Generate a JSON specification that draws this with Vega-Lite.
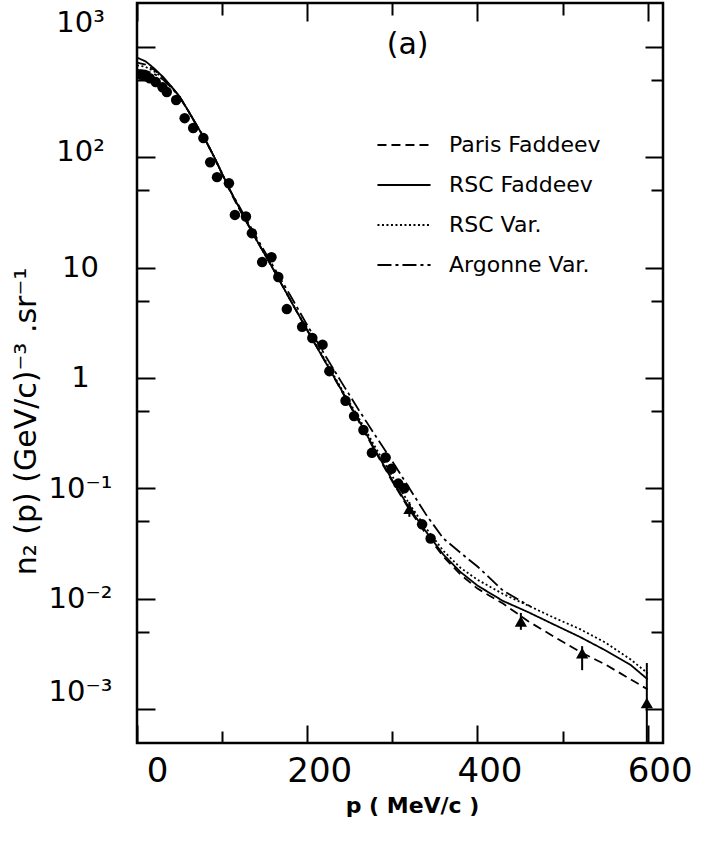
{
  "$schema": "https://vega.github.io/schema/vega-lite/v6.json",
  "width": 526,
  "height": 740,
  "autosize": "none",
  "padding": {"left": 137, "top": 3, "right": 38, "bottom": 104},
  "background": "white",
  "config": {
    "view": {"stroke": "black", "strokeWidth": 2.5},
    "font": "DejaVu Sans",
    "axis": {"grid": false, "domain": false, "tickColor": "black", "tickWidth": 2, "labelColor": "black", "titleColor": "black"}
  },
  "datasets": {
    "curves": [
      {"m": "Paris Faddeev", "p": 0, "n": 720}, {"m": "Paris Faddeev", "p": 10, "n": 690}, {"m": "Paris Faddeev", "p": 20, "n": 620}, {"m": "Paris Faddeev", "p": 30, "n": 535}, {"m": "Paris Faddeev", "p": 40, "n": 440}, {"m": "Paris Faddeev", "p": 50, "n": 355}, {"m": "Paris Faddeev", "p": 60, "n": 265}, {"m": "Paris Faddeev", "p": 70, "n": 195}, {"m": "Paris Faddeev", "p": 80, "n": 145}, {"m": "Paris Faddeev", "p": 90, "n": 103}, {"m": "Paris Faddeev", "p": 100, "n": 70}, {"m": "Paris Faddeev", "p": 110, "n": 48}, {"m": "Paris Faddeev", "p": 120, "n": 34}, {"m": "Paris Faddeev", "p": 140, "n": 18}, {"m": "Paris Faddeev", "p": 160, "n": 9.7}, {"m": "Paris Faddeev", "p": 180, "n": 5.1}, {"m": "Paris Faddeev", "p": 200, "n": 2.7}, {"m": "Paris Faddeev", "p": 220, "n": 1.45}, {"m": "Paris Faddeev", "p": 240, "n": 0.77}, {"m": "Paris Faddeev", "p": 260, "n": 0.41}, {"m": "Paris Faddeev", "p": 280, "n": 0.215}, {"m": "Paris Faddeev", "p": 300, "n": 0.115}, {"m": "Paris Faddeev", "p": 320, "n": 0.064}, {"m": "Paris Faddeev", "p": 340, "n": 0.038}, {"m": "Paris Faddeev", "p": 360, "n": 0.024}, {"m": "Paris Faddeev", "p": 380, "n": 0.0165}, {"m": "Paris Faddeev", "p": 400, "n": 0.0123}, {"m": "Paris Faddeev", "p": 430, "n": 0.009}, {"m": "Paris Faddeev", "p": 460, "n": 0.0062}, {"m": "Paris Faddeev", "p": 490, "n": 0.0045}, {"m": "Paris Faddeev", "p": 520, "n": 0.0033}, {"m": "Paris Faddeev", "p": 550, "n": 0.00253}, {"m": "Paris Faddeev", "p": 580, "n": 0.00185}, {"m": "Paris Faddeev", "p": 600, "n": 0.0015},
      {"m": "RSC Faddeev", "p": 0, "n": 800}, {"m": "RSC Faddeev", "p": 10, "n": 740}, {"m": "RSC Faddeev", "p": 20, "n": 640}, {"m": "RSC Faddeev", "p": 30, "n": 540}, {"m": "RSC Faddeev", "p": 40, "n": 440}, {"m": "RSC Faddeev", "p": 50, "n": 355}, {"m": "RSC Faddeev", "p": 60, "n": 265}, {"m": "RSC Faddeev", "p": 70, "n": 195}, {"m": "RSC Faddeev", "p": 80, "n": 145}, {"m": "RSC Faddeev", "p": 90, "n": 103}, {"m": "RSC Faddeev", "p": 100, "n": 71}, {"m": "RSC Faddeev", "p": 110, "n": 49}, {"m": "RSC Faddeev", "p": 120, "n": 35}, {"m": "RSC Faddeev", "p": 140, "n": 18}, {"m": "RSC Faddeev", "p": 160, "n": 9.7}, {"m": "RSC Faddeev", "p": 180, "n": 5.1}, {"m": "RSC Faddeev", "p": 200, "n": 2.7}, {"m": "RSC Faddeev", "p": 220, "n": 1.45}, {"m": "RSC Faddeev", "p": 240, "n": 0.78}, {"m": "RSC Faddeev", "p": 260, "n": 0.42}, {"m": "RSC Faddeev", "p": 280, "n": 0.22}, {"m": "RSC Faddeev", "p": 300, "n": 0.118}, {"m": "RSC Faddeev", "p": 320, "n": 0.066}, {"m": "RSC Faddeev", "p": 340, "n": 0.04}, {"m": "RSC Faddeev", "p": 360, "n": 0.025}, {"m": "RSC Faddeev", "p": 380, "n": 0.0174}, {"m": "RSC Faddeev", "p": 400, "n": 0.0131}, {"m": "RSC Faddeev", "p": 430, "n": 0.0095}, {"m": "RSC Faddeev", "p": 460, "n": 0.0075}, {"m": "RSC Faddeev", "p": 490, "n": 0.0058}, {"m": "RSC Faddeev", "p": 520, "n": 0.0045}, {"m": "RSC Faddeev", "p": 550, "n": 0.0034}, {"m": "RSC Faddeev", "p": 580, "n": 0.0025}, {"m": "RSC Faddeev", "p": 600, "n": 0.00185},
      {"m": "RSC Var.", "p": 0, "n": 680}, {"m": "RSC Var.", "p": 10, "n": 660}, {"m": "RSC Var.", "p": 20, "n": 600}, {"m": "RSC Var.", "p": 30, "n": 530}, {"m": "RSC Var.", "p": 40, "n": 440}, {"m": "RSC Var.", "p": 50, "n": 355}, {"m": "RSC Var.", "p": 60, "n": 265}, {"m": "RSC Var.", "p": 70, "n": 195}, {"m": "RSC Var.", "p": 80, "n": 145}, {"m": "RSC Var.", "p": 90, "n": 103}, {"m": "RSC Var.", "p": 100, "n": 71}, {"m": "RSC Var.", "p": 110, "n": 49}, {"m": "RSC Var.", "p": 120, "n": 35}, {"m": "RSC Var.", "p": 140, "n": 18}, {"m": "RSC Var.", "p": 160, "n": 9.7}, {"m": "RSC Var.", "p": 180, "n": 5.1}, {"m": "RSC Var.", "p": 200, "n": 2.75}, {"m": "RSC Var.", "p": 220, "n": 1.5}, {"m": "RSC Var.", "p": 240, "n": 0.8}, {"m": "RSC Var.", "p": 260, "n": 0.44}, {"m": "RSC Var.", "p": 280, "n": 0.235}, {"m": "RSC Var.", "p": 300, "n": 0.128}, {"m": "RSC Var.", "p": 320, "n": 0.072}, {"m": "RSC Var.", "p": 340, "n": 0.043}, {"m": "RSC Var.", "p": 360, "n": 0.027}, {"m": "RSC Var.", "p": 380, "n": 0.019}, {"m": "RSC Var.", "p": 400, "n": 0.0148}, {"m": "RSC Var.", "p": 430, "n": 0.011}, {"m": "RSC Var.", "p": 460, "n": 0.0086}, {"m": "RSC Var.", "p": 490, "n": 0.0067}, {"m": "RSC Var.", "p": 520, "n": 0.0053}, {"m": "RSC Var.", "p": 550, "n": 0.004}, {"m": "RSC Var.", "p": 580, "n": 0.0028}, {"m": "RSC Var.", "p": 600, "n": 0.0021},
      {"m": "Argonne Var.", "p": 0, "n": 620}, {"m": "Argonne Var.", "p": 10, "n": 610}, {"m": "Argonne Var.", "p": 20, "n": 570}, {"m": "Argonne Var.", "p": 30, "n": 510}, {"m": "Argonne Var.", "p": 40, "n": 430}, {"m": "Argonne Var.", "p": 50, "n": 350}, {"m": "Argonne Var.", "p": 60, "n": 265}, {"m": "Argonne Var.", "p": 70, "n": 195}, {"m": "Argonne Var.", "p": 80, "n": 145}, {"m": "Argonne Var.", "p": 90, "n": 103}, {"m": "Argonne Var.", "p": 100, "n": 71}, {"m": "Argonne Var.", "p": 110, "n": 49}, {"m": "Argonne Var.", "p": 120, "n": 36}, {"m": "Argonne Var.", "p": 140, "n": 19}, {"m": "Argonne Var.", "p": 160, "n": 10.3}, {"m": "Argonne Var.", "p": 180, "n": 5.6}, {"m": "Argonne Var.", "p": 200, "n": 3.0}, {"m": "Argonne Var.", "p": 220, "n": 1.65}, {"m": "Argonne Var.", "p": 240, "n": 0.92}, {"m": "Argonne Var.", "p": 260, "n": 0.52}, {"m": "Argonne Var.", "p": 280, "n": 0.3}, {"m": "Argonne Var.", "p": 300, "n": 0.175}, {"m": "Argonne Var.", "p": 320, "n": 0.1}, {"m": "Argonne Var.", "p": 340, "n": 0.057}, {"m": "Argonne Var.", "p": 360, "n": 0.035}, {"m": "Argonne Var.", "p": 380, "n": 0.026}, {"m": "Argonne Var.", "p": 400, "n": 0.0195}, {"m": "Argonne Var.", "p": 430, "n": 0.0118}, {"m": "Argonne Var.", "p": 462, "n": 0.0085}
    ],
    "circles": [
      {"p": 5, "n": 560}, {"p": 10, "n": 545}, {"p": 15, "n": 520}, {"p": 22, "n": 480}, {"p": 30, "n": 430}, {"p": 35, "n": 390}, {"p": 46, "n": 330}, {"p": 56, "n": 226}, {"p": 66, "n": 184}, {"p": 78, "n": 149}, {"p": 86, "n": 90}, {"p": 94, "n": 66}, {"p": 108, "n": 58}, {"p": 115, "n": 30}, {"p": 128, "n": 29}, {"p": 135, "n": 20.5}, {"p": 147, "n": 11.2}, {"p": 158, "n": 12.4}, {"p": 166, "n": 8.2}, {"p": 176, "n": 4.2}, {"p": 194, "n": 2.9}, {"p": 206, "n": 2.3}, {"p": 218, "n": 2.0}, {"p": 226, "n": 1.15}, {"p": 245, "n": 0.62}, {"p": 255, "n": 0.45}, {"p": 266, "n": 0.337}, {"p": 276, "n": 0.209}, {"p": 292, "n": 0.19}, {"p": 299, "n": 0.15}, {"p": 307, "n": 0.11}, {"p": 314, "n": 0.1}, {"p": 335, "n": 0.047}, {"p": 345, "n": 0.035}
    ],
    "triangles": [
      {"p": 320, "n": 0.065, "lo": 0.055, "hi": 0.075},
      {"p": 451, "n": 0.0062, "lo": 0.0052, "hi": 0.0074},
      {"p": 523, "n": 0.0032, "lo": 0.00224, "hi": 0.0037},
      {"p": 599, "n": 0.00113, "lo": 0.0003, "hi": 0.0026}
    ]
  },
  "resolve": {"axis": {"x": "independent", "y": "independent"}},
  "layer": [
    {
      "data": {"name": "curves"},
      "mark": {"type": "line", "color": "black", "strokeWidth": 1.8, "clip": true},
      "encoding": {
        "x": {"field": "p", "type": "quantitative", "scale": {"domain": [0, 618], "nice": false, "zero": false},
          "axis": {"orient": "bottom", "values": [0, 100, 200, 300, 400, 500, 600],
            "tickSize": {"condition": {"test": "datum.value % 200 === 0", "value": -18}, "value": -12},
            "labelExpr": "datum.value % 200 === 0 ? datum.label : ''",
            "labelOffset": {"condition": {"test": "datum.value === 0", "value": 20}, "value": 12},
            "labelFontSize": 34, "labelPadding": 29, "labelFlush": false, "labelOverlap": false,
            "title": "p ( MeV/c )", "titleFontSize": 22, "titleFontWeight": "bold", "titleX": 275, "titleY": 62, "titleAlign": "center", "titleBaseline": "middle"}},
        "y": {"field": "n", "type": "quantitative", "scale": {"type": "log", "domain": [0.00049, 2500], "nice": false},
          "axis": {"orient": "left", "values": [0.001, 0.005, 0.01, 0.05, 0.1, 0.5, 1, 5, 10, 50, 100, 500, 1000],
            "tickSize": {"condition": {"test": "indexof([0.001,0.01,0.1,1,10,100,1000], datum.value) >= 0", "value": -18}, "value": -12},
            "labelExpr": "datum.value == 1000 ? '10³' : datum.value == 100 ? '10²' : datum.value == 10 ? '10' : datum.value == 1 ? '1' : datum.value == 0.1 ? '10⁻¹' : datum.value == 0.01 ? '10⁻²' : datum.value == 0.001 ? '10⁻³' : ''",
            "labelOffset": {"condition": [{"test": "datum.value == 1000", "value": -24}, {"test": "datum.value == 100", "value": -6}, {"test": "datum.value == 0.001", "value": -17}], "value": 0},
            "labelFontSize": 29, "labelPadding": 75, "labelAlign": "center", "labelBaseline": "middle", "labelOverlap": false, "labelFlush": false,
            "title": "n₂ (p)  (GeV/c)⁻³ .sr⁻¹", "titleFontSize": 30, "titleFontWeight": "normal", "titleAngle": 270, "titleX": -111, "titleY": 418, "titleAlign": "center", "titleBaseline": "middle"}},
        "strokeDash": {"field": "m", "type": "nominal",
          "scale": {"domain": ["Paris Faddeev", "RSC Faddeev", "RSC Var.", "Argonne Var."], "range": [[9, 5], [1, 0], [2, 2.5], [14, 4, 3, 4]]},
          "legend": {"orient": "none", "legendX": 256, "legendY": 131, "title": null, "symbolType": "M-4,0H4", "symbolSize": 176, "symbolStrokeWidth": 1.8, "symbolStrokeColor": "black", "labelFontSize": 22, "labelFontWeight": "normal", "labelColor": "black", "labelOffset": 34, "labelLimit": 400, "rowPadding": 18, "padding": 0}}
      }
    },
    {
      "data": {"name": "circles"},
      "mark": {"type": "point", "filled": true, "shape": "circle", "color": "black", "opacity": 1, "size": 110, "clip": true},
      "encoding": {
        "x": {"field": "p", "type": "quantitative", "scale": {"domain": [0, 618], "nice": false, "zero": false},
          "axis": {"orient": "top", "values": [0, 100, 200, 300, 400, 500, 600], "labels": false, "title": null,
            "tickSize": {"condition": {"test": "datum.value % 200 === 0", "value": -18}, "value": -12}}},
        "y": {"field": "n", "type": "quantitative", "scale": {"type": "log", "domain": [0.00049, 2500], "nice": false},
          "axis": {"orient": "right", "values": [0.001, 0.005, 0.01, 0.05, 0.1, 0.5, 1, 5, 10, 50, 100, 500, 1000], "labels": false, "title": null,
            "tickSize": {"condition": {"test": "indexof([0.001,0.01,0.1,1,10,100,1000], datum.value) >= 0", "value": -18}, "value": -12}}}
      }
    },
    {
      "data": {"name": "triangles"},
      "mark": {"type": "rule", "color": "black", "strokeWidth": 2, "clip": true},
      "encoding": {
        "x": {"field": "p", "type": "quantitative", "scale": {"domain": [0, 618], "nice": false, "zero": false}, "axis": null},
        "y": {"field": "lo", "type": "quantitative", "scale": {"type": "log", "domain": [0.00049, 2500], "nice": false}, "axis": null},
        "y2": {"field": "hi"}
      }
    },
    {
      "data": {"name": "triangles"},
      "mark": {"type": "point", "filled": true, "shape": "triangle-up", "color": "black", "opacity": 1, "size": 150, "clip": true},
      "encoding": {
        "x": {"field": "p", "type": "quantitative", "scale": {"domain": [0, 618], "nice": false, "zero": false}, "axis": null},
        "y": {"field": "n", "type": "quantitative", "scale": {"type": "log", "domain": [0.00049, 2500], "nice": false}, "axis": null}
      }
    },
    {
      "data": {"values": [{"label": "(a)"}]},
      "mark": {"type": "text", "fontSize": 30, "color": "black", "align": "center", "baseline": "middle"},
      "encoding": {
        "text": {"field": "label"},
        "x": {"datum": 318, "type": "quantitative", "scale": {"domain": [0, 618], "nice": false, "zero": false}, "axis": null},
        "y": {"datum": 1040, "type": "quantitative", "scale": {"type": "log", "domain": [0.00049, 2500], "nice": false}, "axis": null}
      }
    }
  ]
}
